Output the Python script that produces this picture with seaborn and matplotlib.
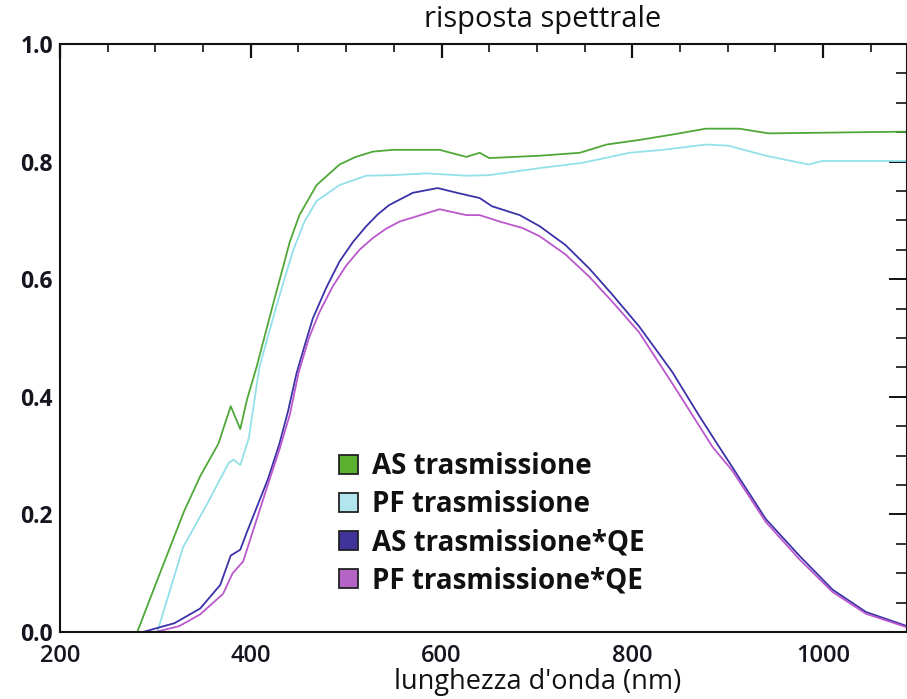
import matplotlib
matplotlib.use("Agg")
import matplotlib.pyplot as plt
from matplotlib.patches import Patch
from matplotlib.ticker import MultipleLocator
import seaborn as sns
import pandas as pd

# ---------------- data ----------------
wl_as = [250, 281, 300, 330, 347, 366, 379, 389, 396, 406, 423, 441, 451, 469,
         493, 510, 528, 549, 584, 598, 626, 640, 650, 703, 745, 773, 808, 842,
         877, 912, 943, 992, 1090]
as_trasm = [0, 0, 0.08, 0.205, 0.265, 0.32, 0.384, 0.345, 0.395, 0.45, 0.555,
            0.664, 0.709, 0.76, 0.795, 0.808, 0.817, 0.82, 0.82, 0.82, 0.808,
            0.815, 0.806, 0.81, 0.815, 0.829, 0.837, 0.846, 0.856, 0.856,
            0.848, 0.849, 0.851]

wl_pf = [250, 302, 329, 355, 377, 382, 389, 398, 409, 427, 444, 456, 469, 493,
         521, 549, 584, 626, 650, 703, 748, 797, 832, 877, 901, 940, 985, 999,
         1090]
pf_trasm = [0, 0, 0.144, 0.22, 0.288, 0.293, 0.284, 0.33, 0.45, 0.555, 0.647,
            0.697, 0.733, 0.76, 0.776, 0.777, 0.78, 0.776, 0.777, 0.789, 0.798,
            0.815, 0.82, 0.829, 0.827, 0.81, 0.795, 0.801, 0.801]

wl_asqe = [250, 287, 320, 347, 368, 379, 389, 396, 418, 430, 439, 448, 457, 465,
           479, 493, 507, 521, 533, 545, 570, 596, 616, 640, 653, 682, 703, 730,
           755, 780, 807, 842, 870, 891, 905, 940, 975, 1010, 1045, 1088]
as_qe = [0, 0, 0.015, 0.04, 0.08, 0.13, 0.14, 0.17, 0.26, 0.32, 0.375, 0.44,
         0.49, 0.533, 0.585, 0.63, 0.663, 0.69, 0.71, 0.726, 0.747, 0.755,
         0.747, 0.738, 0.724, 0.709, 0.69, 0.658, 0.618, 0.572, 0.52, 0.442,
         0.368, 0.315, 0.28, 0.192, 0.13, 0.072, 0.034, 0.01]

wl_pfqe = [250, 300, 325, 347, 371, 381, 392, 399, 417, 430, 441, 450, 461, 472,
           486, 500, 514, 528, 542, 556, 584, 598, 626, 640, 661, 685, 703, 730,
           755, 780, 807, 845, 884, 905, 940, 975, 1010, 1045, 1088]
pf_qe = [0, 0, 0.01, 0.03, 0.065, 0.10, 0.12, 0.155, 0.246, 0.31, 0.37, 0.44,
         0.50, 0.544, 0.588, 0.623, 0.65, 0.67, 0.686, 0.698, 0.712, 0.719,
         0.709, 0.709, 0.698, 0.687, 0.673, 0.642, 0.604, 0.56, 0.51, 0.415,
         0.315, 0.274, 0.187, 0.124, 0.068, 0.031, 0.008]

labels = ["AS trasmissione", "PF trasmissione",
          "AS trasmissione*QE", "PF trasmissione*QE"]
line_colors = ["#4fa838", "#93e0ea", "#3b32a8", "#bb58cc"]
patch_colors = ["#5cb030", "#b2e6ee", "#40349a", "#b464c4"]

title = "risposta spettrale"
xlabel = "lunghezza d'onda (nm)"

# ---------------- build table ----------------
frames = []
for lab, wl, val in zip(labels, [wl_as, wl_pf, wl_asqe, wl_pfqe],
                        [as_trasm, pf_trasm, as_qe, pf_qe]):
    frames.append(pd.DataFrame({"nm": wl, "val": val, "serie": lab}))
df = pd.concat(frames, ignore_index=True)

# ---------------- style ----------------
sns.set_style("white")
plt.rcParams["font.family"] = ["Open Sans", "DejaVu Sans"]

W, H = 907, 699
fig = plt.figure(figsize=(W / 100, H / 100), dpi=100)
ax = fig.add_axes([60 / W, 1 - 632 / H, 1 - 60 / W, (632 - 44) / H])

sns.lineplot(data=df, x="nm", y="val", hue="serie", hue_order=labels,
             palette=line_colors, linewidth=1.3, legend=False, ax=ax,
             sort=False, estimator=None)

ax.set_xlim(200, 1088)
ax.set_ylim(0, 1.0)
ax.xaxis.set_major_locator(MultipleLocator(200))
ax.xaxis.set_minor_locator(MultipleLocator(50))
ax.yaxis.set_major_locator(MultipleLocator(0.2))
ax.yaxis.set_minor_locator(MultipleLocator(0.05))
ax.yaxis.set_major_formatter(matplotlib.ticker.FormatStrFormatter("%.1f"))

ax.set_xlabel("")
ax.set_ylabel("")

for side in ["left", "bottom", "top", "right"]:
    ax.spines[side].set_visible(True)
    ax.spines[side].set_color("#111111")
    ax.spines[side].set_linewidth(1.5)

ax.tick_params(axis="both", which="both", direction="in", color="#111111",
               top=True, right=True)
ax.tick_params(axis="y", which="major", length=13, width=1.4, pad=5)
ax.tick_params(axis="y", which="minor", length=8, width=1.2)
ax.tick_params(axis="x", which="major", length=10, width=1.6, pad=9)
ax.tick_params(axis="x", which="minor", length=6, width=1.2)

for t in ax.get_yticklabels():
    t.set_fontsize(16.5)
    t.set_fontweight("bold")
    t.set_color("#151520")
for t in ax.get_xticklabels():
    t.set_fontsize(17)
    t.set_fontweight("semibold")
    t.set_color("#151520")

fig.text(543 / W, 1 - 20 / H, title, ha="center", va="center",
         fontsize=21, fontweight="medium", color="#111111")
fig.text(538 / W, 1 - 682 / H, xlabel, ha="center", va="center",
         fontsize=19.5, fontweight="medium", color="#111111")

handles = [Patch(facecolor=c, edgecolor="#222222", linewidth=1.3)
           for c in patch_colors]
leg = ax.legend(handles, labels, loc="upper left",
                bbox_to_anchor=(339 / W, 1 - 452 / H),
                bbox_transform=fig.transFigure, frameon=False,
                prop={"family": ["Open Sans", "DejaVu Sans"], "size": 20,
                      "weight": "bold"},
                handlelength=0.68, handleheight=0.68, handletextpad=0.5,
                labelspacing=0.33, borderpad=0, borderaxespad=0)
for t in leg.get_texts():
    t.set_color("#111111")

fig.savefig("out.png", dpi=100)
